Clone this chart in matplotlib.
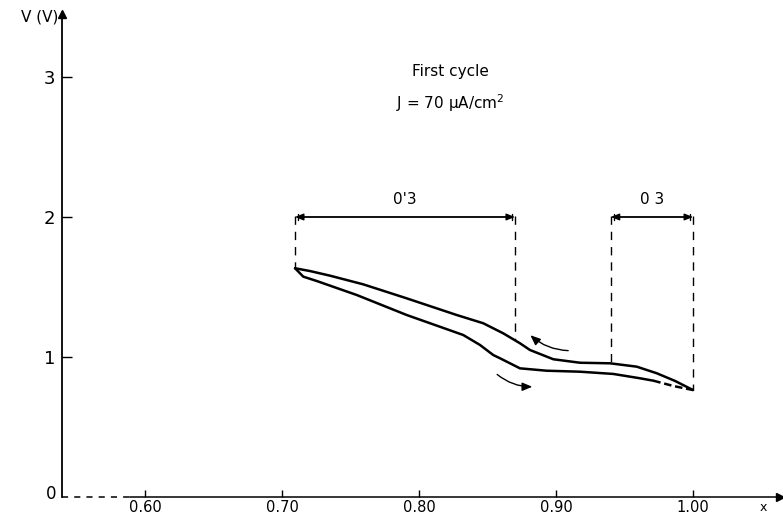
import numpy as np
import matplotlib.pyplot as plt

# Discharge branch (lower curve, x increasing)
x_dis = [0.7095, 0.7155, 0.7253, 0.7545, 0.7910, 0.8153, 0.8323, 0.8445, 0.8542, 0.8591, 0.8737, 0.8932, 0.9175, 0.9418, 0.9613, 0.9710, 0.9856, 1.000]
v_dis = [1.634, 1.574, 1.543, 1.443, 1.300, 1.216, 1.157, 1.086, 1.014, 0.991, 0.919, 0.902, 0.895, 0.879, 0.848, 0.831, 0.793, 0.764]
dash_from = 0.970  # end of the discharge curve is drawn dashed

# Charge branch (upper curve)
x_ch = [0.7095, 0.7204, 0.7350, 0.7593, 0.7910, 0.8275, 0.8469, 0.8615, 0.8737, 0.8810, 0.8980, 0.9175, 0.9394, 0.9589, 0.9735, 0.9869, 1.000]
v_ch = [1.634, 1.614, 1.581, 1.519, 1.419, 1.300, 1.241, 1.169, 1.098, 1.050, 0.984, 0.959, 0.955, 0.931, 0.884, 0.829, 0.764]

xticks = [0.60, 0.70, 0.80, 0.90, 1.00]
xtick_labels = ["0.60", "0.70", "0.80", "0.90", "1.00"]
yticks = [1, 2, 3]

# phase domains (dimension lines)
domains = [(0.7095, 0.870, "0'3"), (0.940, 1.000, "0 3")]
domain_v = 2.0

fig = plt.figure(figsize=(7.83, 5.17), dpi=100)
ax = fig.add_axes([62 / 783, 20 / 517, 718 / 783, 483 / 517])
x0, x1 = 0.5394, 1.0635
ax.set_xlim(x0, x1)
ax.set_ylim(0, 3.45)

for s in ["top", "right"]:
    ax.spines[s].set_visible(False)
ax.spines["left"].set_linewidth(1.3)
ax.spines["bottom"].set_linewidth(1.1)
ax.spines["bottom"].set_bounds(0.589, x1)
ax.plot([x0, 0.589], [0, 0], color="black", lw=1.1, ls=(0, (4, 4)), clip_on=False)

ax.plot([x1], [0], marker=">", color="black", ms=6, clip_on=False)
ax.plot([x0], [3.45], marker="^", color="black", ms=6, clip_on=False)

ax.set_xticks(xticks)
ax.set_xticklabels(xtick_labels)
ax.set_yticks(yticks)
ax.tick_params(axis="x", direction="in", length=5, width=1, labelsize=10.5, pad=2)
ax.tick_params(axis="y", direction="in", length=7, width=1, labelsize=13, pad=5)
ax.text(1.051, -0.03, "x", ha="center", va="top", fontsize=9)
ax.text(x0 - 0.004, 0.02, "0", ha="right", va="center", fontsize=12)
ax.text(x0 - 0.003, 3.43, "V (V)", ha="right", va="center", fontsize=11)

# curves
ax.plot(x_ch, v_ch, color="black", lw=1.8, solid_joinstyle="round", solid_capstyle="round")
xd = np.array(x_dis)
vd = np.array(v_dis)
k = np.searchsorted(xd, dash_from)
ax.plot(xd[:k + 1], vd[:k + 1], color="black", lw=1.8, solid_joinstyle="round", solid_capstyle="round")
ax.plot(xd[k:], vd[k:], color="black", lw=1.8, ls=(0, (3, 1.5)))

# dimension lines
for a, b, lab in domains:
    ax.annotate("", xy=(a, domain_v), xytext=(b, domain_v),
                arrowprops=dict(arrowstyle="|-|,widthA=0.25,widthB=0.25", lw=1.0, color="black"))
    ax.annotate("", xy=(a, domain_v), xytext=(b, domain_v),
                arrowprops=dict(arrowstyle="<|-|>,head_length=0.5,head_width=0.2", lw=1.0, color="black",
                                shrinkA=0, shrinkB=0))
    ax.text((a + b) / 2, domain_v + 0.07, lab, ha="center", va="bottom", fontsize=11)

vlines = [(0.7095, 1.634), (0.870, 1.12), (0.940, 0.955), (1.000, 0.764)]
for xv, vb in vlines:
    ax.plot([xv, xv], [2.01, vb], color="black", lw=1.0, ls=(0, (6, 5)))

# direction arrows
ax.annotate("", xy=(0.8798, 1.169), xytext=(0.9109, 1.045),
            arrowprops=dict(arrowstyle="-|>,head_length=0.6,head_width=0.25", lw=1.0, color="black",
                            connectionstyle="arc3,rad=-0.2"))
ax.annotate("", xy=(0.8847, 0.788), xytext=(0.8555, 0.888),
            arrowprops=dict(arrowstyle="-|>,head_length=0.6,head_width=0.25", lw=1.0, color="black",
                            connectionstyle="arc3,rad=0.2"))

ax.text(0.8226, 3.04, "First cycle", ha="center", va="center", fontsize=11)
ax.text(0.8226, 2.81, "J = 70 μA/cm$^2$", ha="center", va="center", fontsize=11)

fig.savefig("out.png", dpi=100)
